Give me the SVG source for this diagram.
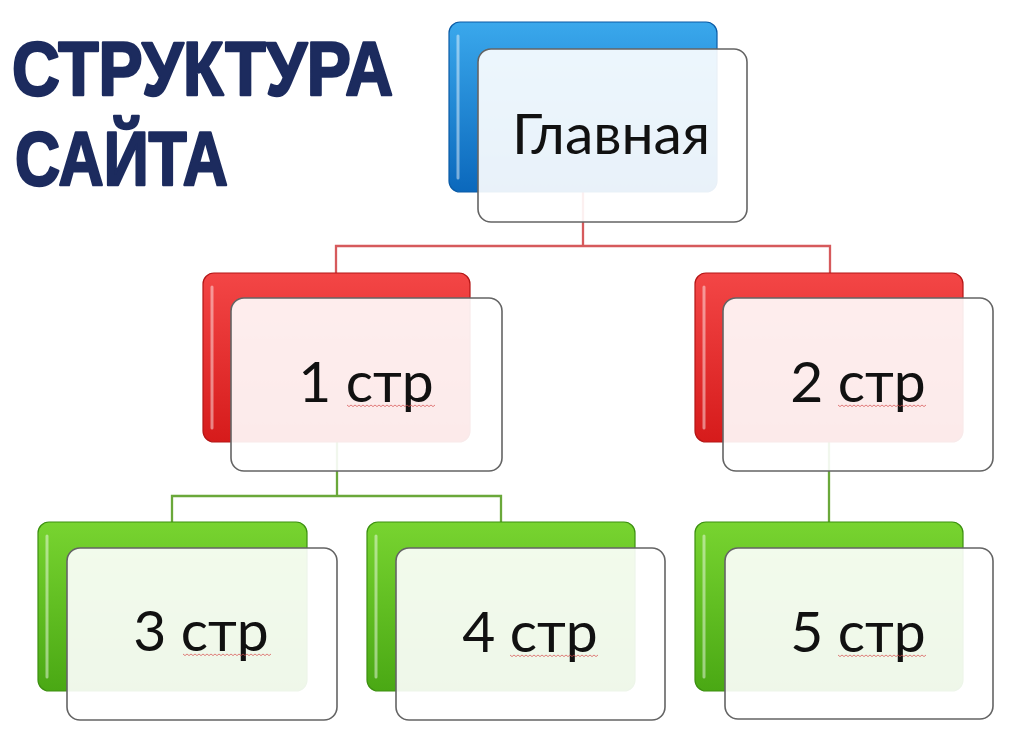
<svg xmlns="http://www.w3.org/2000/svg" xmlns:xlink="http://www.w3.org/1999/xlink" width="1024" height="747" viewBox="0 0 1024 747">
<defs>
<linearGradient id="gBlue" x1="0" y1="0" x2="0" y2="1"><stop offset="0" stop-color="#3aa8ec"/><stop offset="1" stop-color="#0b68bc"/></linearGradient>
<linearGradient id="gRed" x1="0" y1="0" x2="0" y2="1"><stop offset="0" stop-color="#f34646"/><stop offset="1" stop-color="#d61b1b"/></linearGradient>
<linearGradient id="gGreen" x1="0" y1="0" x2="0" y2="1"><stop offset="0" stop-color="#78d430"/><stop offset="1" stop-color="#4aa814"/></linearGradient>
<path id="wave" d="M0 0 l2 1.6 l2 -1.6 l2 1.6 l2 -1.6 l2 1.6 l2 -1.6 l2 1.6 l2 -1.6 l2 1.6 l2 -1.6 l2 1.6 l2 -1.6 l2 1.6 l2 -1.6 l2 1.6 l2 -1.6 l2 1.6 l2 -1.6 l2 1.6 l2 -1.6 l2 1.6 l2 -1.6 l2 1.6 l2 -1.6 l2 1.6 l2 -1.6 l2 1.6 l2 -1.6 l2 1.6 l2 -1.6 l2 1.6 l2 -1.6 l2 1.6 l2 -1.6 l2 1.6 l2 -1.6 l2 1.6 l2 -1.6 l2 1.6 l2 -1.6 l2 1.6 l2 -1.6 l2 1.6 l2 -1.6"/>
</defs>
<style>
.title{font-family:"Liberation Sans",Arial,sans-serif;font-weight:bold;fill:#1c2b5e;stroke:#1c2b5e;stroke-width:2.5;stroke-linejoin:round}
.back{stroke-width:1.2}
.blue{fill:url(#gBlue);stroke:#0a5ba6}
.red{fill:url(#gRed);stroke:#b41616}
.green{fill:url(#gGreen);stroke:#3c9010}
.shine{fill:none;stroke:#ffffff;stroke-opacity:0.45;stroke-width:3;stroke-linecap:round}
.front{fill:#ffffff;fill-opacity:0.91;stroke:#646464;stroke-width:1.6}
.lbl{font-family:Lato,"Noto Sans",sans-serif;font-size:57px;fill:#111111;text-anchor:middle}
.wv{fill:none;stroke:#d64a4a;stroke-width:1;stroke-opacity:0.7}
.cr{fill:none;stroke:#d65a5c;stroke-width:2.3}
.cg{fill:none;stroke:#6aa83a;stroke-width:2.3}
</style>
<rect width="1024" height="747" fill="#ffffff"/>
<g id="title">
<text class="title" x="12" y="95" font-size="76" textLength="381" lengthAdjust="spacingAndGlyphs">СТРУКТУРА</text>
<text class="title" x="15" y="185" font-size="76" textLength="213" lengthAdjust="spacingAndGlyphs">САЙТА</text>
</g>
<g id="connectors">
<path class="cr" d="M583 192 V246 M336 273 V246 H830 V273"/>
<path class="cg" d="M337 442 V496 M172 522 V496 H501 V522"/>
<path class="cg" d="M829 442 V522"/>
</g>
<g id="node-main">
<rect class="back blue" x="449" y="22" width="268" height="170" rx="11"/>
<path class="shine" d="M458 36 V178"/>
<rect class="front" x="478" y="49" width="269" height="173" rx="13"/>
<text class="lbl" x="611" y="154" font-size="60">Главная</text>
</g>
<g id="node-1">
<rect class="back red" x="203" y="273" width="267" height="169" rx="11"/>
<path class="shine" d="M212 287 V428"/>
<rect class="front" x="231" y="298" width="271" height="173" rx="13"/>
<text class="lbl" x="366" y="402">1 стр</text>
<use href="#wave" class="wv" x="347" y="405"/>
</g>
<g id="node-2">
<rect class="back red" x="695" y="273" width="268" height="169" rx="11"/>
<path class="shine" d="M704 287 V428"/>
<rect class="front" x="723" y="298" width="270" height="173" rx="13"/>
<text class="lbl" x="858" y="402">2 стр</text>
<use href="#wave" class="wv" x="838" y="405"/>
</g>
<g id="node-3">
<rect class="back green" x="38" y="522" width="269" height="169" rx="11"/>
<path class="shine" d="M47 536 V677"/>
<rect class="front" x="67" y="548" width="270" height="172" rx="13"/>
<text class="lbl" x="201" y="651">3 стр</text>
<use href="#wave" class="wv" x="183" y="654"/>
</g>
<g id="node-4">
<rect class="back green" x="367" y="522" width="268" height="169" rx="11"/>
<path class="shine" d="M376 536 V677"/>
<rect class="front" x="396" y="548" width="269" height="172" rx="13"/>
<text class="lbl" x="530" y="652">4 стр</text>
<use href="#wave" class="wv" x="510" y="655"/>
</g>
<g id="node-5">
<rect class="back green" x="695" y="522" width="268" height="169" rx="11"/>
<path class="shine" d="M704 536 V677"/>
<rect class="front" x="725" y="548" width="268" height="171" rx="13"/>
<text class="lbl" x="858" y="652">5 стр</text>
<use href="#wave" class="wv" x="838" y="655"/>
</g>
</svg>
